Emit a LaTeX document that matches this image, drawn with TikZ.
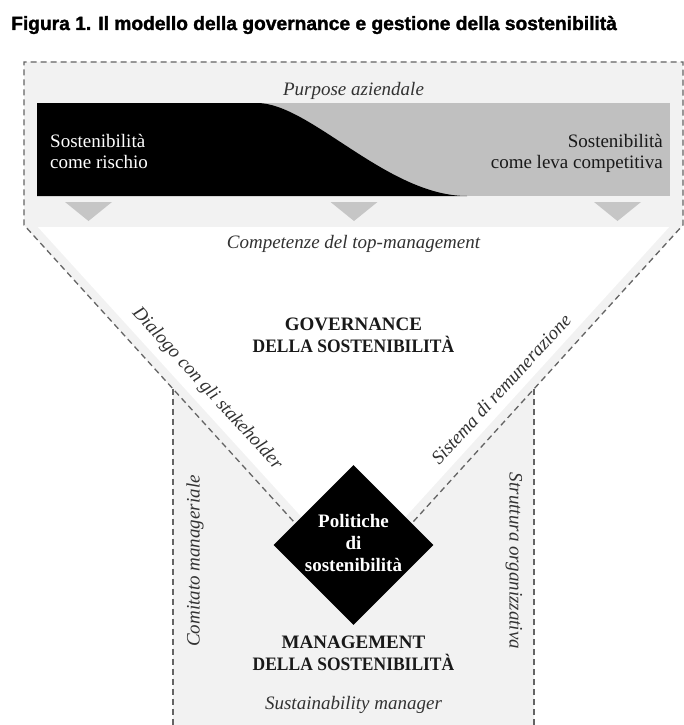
\documentclass[tikz,border=0pt]{standalone}
\usepackage{fontspec}
\setmainfont{Liberation Serif}
\newfontfamily\titlefont[BoldFeatures={FakeBold=1.6}]{Liberation Sans}
\usetikzlibrary{shapes.geometric}
\definecolor{bggray}{RGB}{242,242,242}
\definecolor{bargray}{RGB}{192,192,192}
\definecolor{trigray}{RGB}{198,198,198}
\definecolor{dashgray}{RGB}{100,100,100}
\definecolor{labelgray}{RGB}{50,50,50}
\definecolor{darktext}{RGB}{25,25,25}
\tikzset{
  lbl/.style={font=\fontsize{19}{22}\selectfont\itshape, text=labelgray, inner sep=0pt},
  bigcap/.style={font=\fontsize{19}{21.5}\selectfont\bfseries, text=darktext, align=center, inner sep=0pt},
  bartext/.style={font=\fontsize{19}{21.5}\selectfont, inner sep=0pt},
  diatext/.style={font=\fontsize{19}{22.3}\selectfont\bfseries, text=white, align=center, inner sep=0pt},
  outline/.style={draw=dashgray, line width=1.3pt, dash pattern=on 6pt off 4pt},
  tri/.style={fill=trigray},
}
\begin{document}
\begin{tikzpicture}[x=1pt,y=-1pt]
\useasboundingbox (0,0) rectangle (684,725);
% background shapes
\fill[bggray] (24,62) -- (683,62) -- (683,225) -- (534,388.9) -- (534,730)
  -- (173,730) -- (173,388.9) -- (24,225) -- cycle;
\fill[white] (37.8,227) -- (669.2,227) -- (353.5,574) -- cycle;
% bar
\fill[bargray] (37,103) rectangle (670,196);
\fill[black] (37,103) -- (257,103) .. controls (310,103) and (387,196) .. (467,196)
  -- (37,196) -- cycle;
% triangles
\fill[tri] (65,202) -- (112,202) -- (88.5,221) -- cycle;
\fill[tri] (330.5,202) -- (377.5,202) -- (354,221) -- cycle;
\fill[tri] (594,202) -- (641,202) -- (617.5,221) -- cycle;
% dashed outline
\coordinate (dl) at (300,528.6);
\coordinate (dr) at (407,528.6);
\coordinate (jl) at (173,388.9);
\coordinate (jr) at (534,388.9);
\draw[outline] (dl) -- (24,225) -- (24,62) -- (683,62) -- (683,225) -- (dr);
\draw[outline] (jl) -- (173,730);
\draw[outline] (jr) -- (534,730);
% diamond
\node[diamond, fill=black, minimum width=160pt, minimum height=160pt, inner sep=0pt] (pol) at (353.5,545) {};
\node[diatext, anchor=north] (poltxt) at (353.5,514) {Politiche\\di\\sostenibilità};
% texts
\node[anchor=base west, inner sep=0pt, text=black, font=\titlefont\bfseries\fontsize{19.2}{23}\selectfont] (title) at (11,30) {Figura 1. Il modello della governance e gestione della sostenibilità};
\node[lbl, anchor=base] (purpose) at (353.5,95) {Purpose aziendale};
\node[bartext, text=white, align=left, anchor=north west] (rischio) at (50,134) {Sostenibilità\\come rischio};
\node[bartext, text=darktext, align=right, anchor=north east] (leva) at (663,134) {Sostenibilità\\come leva competitiva};
\node[lbl, anchor=base] (comp) at (353.5,248) {Competenze del top-management};
\node[bigcap, anchor=north] (gov) at (353.5,318) {GOVERNANCE\\\scalebox{0.92}[1]{DELLA SOSTENIBILITÀ}};
\node[lbl, rotate=-47.5] (dialogo) at (207,389) {Dialogo con gli stakeholder};
\node[lbl, rotate=47.5] (sistema) at (501,389) {Sistema di remunerazione};
\node[lbl, rotate=90] (comitato) at (195,561) {Comitato manageriale};
\node[lbl, rotate=-90] (struttura) at (514,561) {Struttura organizzativa};
\node[bigcap, anchor=north] (mgmt) at (353.5,636) {MANAGEMENT\\\scalebox{0.92}[1]{DELLA SOSTENIBILITÀ}};
\node[lbl, anchor=base] (sm) at (353.5,709) {Sustainability manager};
\end{tikzpicture}
\end{document}
